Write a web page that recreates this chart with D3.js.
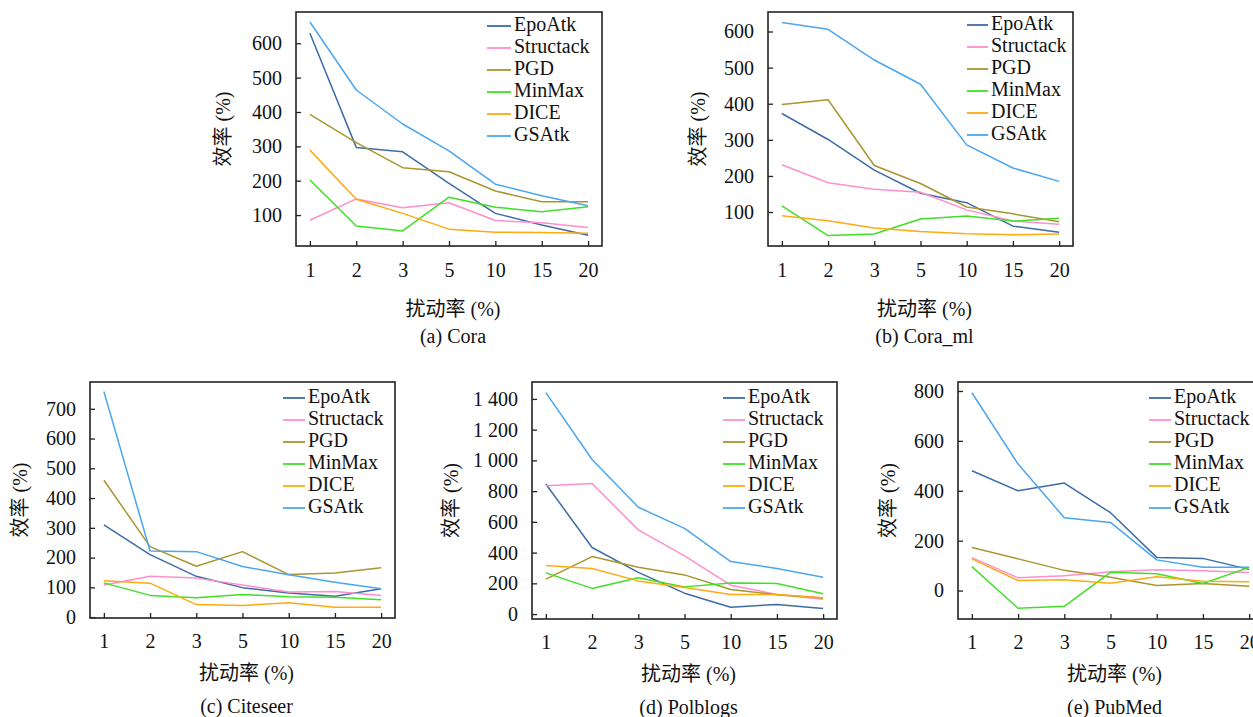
<!DOCTYPE html>
<html>
<head>
<meta charset="utf-8">
<script src="https://cdn.jsdelivr.net/npm/d3@7/dist/d3.min.js"></script>
<style>
  html, body { margin: 0; padding: 0; background: #fff; }
  svg { display: block; }
</style>
</head>
<body>
<svg id="chart" width="1253" height="717"></svg>
<script>
// ---------------- data ----------------
const rates = ["1", "2", "3", "5", "10", "15", "20"];
const methods = ["EpoAtk", "Structack", "PGD", "MinMax", "DICE", "GSAtk"];
const methodColors = ["#3d6ca6", "#ff8fcb", "#a8962f", "#3fe026", "#ffaa10", "#4aa6f0"];

// (a) Cora
const coraEpoAtk    = [629, 297, 284, 192, 105, 71, 41];
const coraStructack = [85, 147, 121, 136, 84, 78, 64];
const coraPGD       = [393, 311, 238, 226, 170, 139, 139];
const coraMinMax    = [202, 68, 54, 152, 123, 110, 124];
const coraDICE      = [289, 146, 105, 59, 50, 49, 47];
const coraGSAtk     = [662, 464, 365, 287, 190, 156, 127];

// (b) Cora_ml
const coramlEpoAtk    = [373, 301, 216, 152, 126, 61, 44];
const coramlStructack = [231, 181, 163, 155, 106, 75, 66];
const coramlPGD       = [398, 411, 229, 179, 114, 95, 73];
const coramlMinMax    = [117, 35, 39, 81, 89, 75, 83];
const coramlDICE      = [90, 76, 56, 46, 40, 37, 39];
const coramlGSAtk     = [625, 606, 521, 454, 286, 222, 185];

// (c) Citeseer
const citeseerEpoAtk    = [310, 210, 137, 99, 81, 70, 95];
const citeseerStructack = [108, 137, 131, 108, 84, 86, 73];
const citeseerPGD       = [460, 237, 171, 220, 143, 148, 166];
const citeseerMinMax    = [115, 73, 65, 76, 68, 67, 58];
const citeseerDICE      = [122, 114, 42, 39, 48, 33, 33];
const citeseerGSAtk     = [758, 222, 220, 170, 142, 117, 95];

// (d) Polblogs
const polblogsEpoAtk    = [846, 433, 271, 136, 45, 63, 37];
const polblogsStructack = [835, 850, 548, 379, 188, 128, 97];
const polblogsPGD       = [227, 374, 305, 255, 160, 126, 104];
const polblogsMinMax    = [268, 167, 236, 177, 203, 199, 132];
const polblogsDICE      = [316, 296, 216, 173, 128, 128, 106];
const polblogsGSAtk     = [1441, 1006, 695, 558, 342, 296, 240];

// (e) PubMed
const pubmedEpoAtk    = [480, 400, 431, 312, 133, 129, 85];
const pubmedStructack = [132, 51, 59, 75, 83, 79, 72];
const pubmedPGD       = [173, 127, 81, 53, 20, 28, 17];
const pubmedMinMax    = [96, -71, -63, 73, 67, 28, 93];
const pubmedDICE      = [127, 40, 43, 29, 55, 37, 35];
const pubmedGSAtk     = [793, 507, 292, 273, 123, 93, 93];

// tick labels
const ticksCora     = [100, 200, 300, 400, 500, 600];
const ticksCoraml   = [100, 200, 300, 400, 500, 600];
const ticksCiteseer = [0, 100, 200, 300, 400, 500, 600, 700];
const ticksPolblogs = [0, 200, 400, 600, 800, 1000, 1200, 1400];
const ticksPubmed   = [0, 200, 400, 600, 800];

const captions = ["(a) Cora", "(b) Cora_ml", "(c) Citeseer", "(d) Polblogs", "(e) PubMed"];
const xTitle = "扰动率 (%)";
const yTitle = "效率 (%)";

// ---------------- layout ----------------
const FONT = '"Liberation Serif", "Noto Sans CJK SC", serif';
const panels = [
  { series: [coraEpoAtk, coraStructack, coraPGD, coraMinMax, coraDICE, coraGSAtk],
    ticks: ticksCora, domain: [10, 691], caption: captions[0],
    box: { l: 296, r: 602, t: 12, b: 246 }, yLabX: 225, legX: 487, legLine: 24, legT: 26,
    tickY: 26, titleY: 65, capY: 92 },
  { series: [coramlEpoAtk, coramlStructack, coramlPGD, coramlMinMax, coramlDICE, coramlGSAtk],
    ticks: ticksCoraml, domain: [6, 654], caption: captions[1],
    box: { l: 768, r: 1073, t: 12, b: 246 }, yLabX: 700, legX: 967, legLine: 21, legT: 25,
    tickY: 26, titleY: 65, capY: 92 },
  { series: [citeseerEpoAtk, citeseerStructack, citeseerPGD, citeseerMinMax, citeseerDICE, citeseerGSAtk],
    ticks: ticksCiteseer, domain: [-3, 790], caption: captions[2],
    box: { l: 90, r: 395, t: 382, b: 618 }, yLabX: 22, legX: 283, legLine: 22, legT: 398,
    tickY: 25, titleY: 57, capY: 90 },
  { series: [polblogsEpoAtk, polblogsStructack, polblogsPGD, polblogsMinMax, polblogsDICE, polblogsGSAtk],
    ticks: ticksPolblogs, domain: [-32, 1510], caption: captions[3],
    box: { l: 532, r: 837, t: 382, b: 619 }, yLabX: 453, legX: 723, legLine: 22, legT: 398,
    tickY: 25, titleY: 57, capY: 90 },
  { series: [pubmedEpoAtk, pubmedStructack, pubmedPGD, pubmedMinMax, pubmedDICE, pubmedGSAtk],
    ticks: ticksPubmed, domain: [-114, 836], caption: captions[4],
    box: { l: 958, r: 1263, t: 382, b: 619 }, yLabX: 890, legX: 1149, legLine: 22, legT: 398,
    tickY: 25, titleY: 57, capY: 90 }
];

const svg = d3.select("#chart");
const locale = d3.formatLocale({ decimal: ".", thousands: " ", grouping: [3], currency: ["", ""] });
const fmt = locale.format(",d");

panels.forEach(p => {
  const { l, r, t, b } = p.box;
  const g = svg.append("g");

  const x = d3.scalePoint().domain(rates).range([l, r]).padding(0.3);
  const y = d3.scaleLinear().domain(p.domain).range([b, t]);

  // lines
  const line = d3.line().x((d, i) => x(rates[i])).y(d => y(d));
  p.series.forEach((s, k) => {
    g.append("path").datum(s)
      .attr("d", line)
      .attr("fill", "none")
      .attr("stroke", methodColors[k])
      .attr("stroke-width", 1.5)
      .attr("stroke-linejoin", "round");
  });

  // axes (inward ticks)
  const yAxis = d3.axisLeft(y).tickValues(p.ticks).tickSize(-5).tickPadding(14).tickFormat(fmt);
  const ya = g.append("g").attr("transform", `translate(${l},0)`).call(yAxis);
  const xAxis = d3.axisBottom(x).tickSize(-5).tickPadding(12);
  const xa = g.append("g").attr("transform", `translate(0,${b})`).call(xAxis);
  [ya, xa].forEach(a => {
    a.attr("font-family", FONT).attr("font-size", 20);
    a.select(".domain").remove();
    a.selectAll(".tick line").attr("stroke", "#222").attr("stroke-width", 1.3);
    a.selectAll(".tick text").attr("font-size", 20).attr("fill", "#111").attr("font-family", FONT);
  });
  xa.selectAll(".tick text").attr("dy", null).attr("y", p.tickY).attr("dominant-baseline", "middle");

  // frame
  g.append("rect").attr("x", l).attr("y", t).attr("width", r - l).attr("height", b - t)
    .attr("fill", "none").attr("stroke", "#222").attr("stroke-width", 1.6);

  // titles
  const cx = (l + r) / 2 + 4;
  const txt = (sel) => sel.attr("font-family", FONT).attr("font-size", 20).attr("fill", "#111");
  txt(g.append("text").attr("x", cx).attr("y", b + p.titleY)
    .attr("text-anchor", "middle").attr("dominant-baseline", "middle")).text(xTitle);
  txt(g.append("text").attr("x", cx).attr("y", b + p.capY)
    .attr("text-anchor", "middle").attr("dominant-baseline", "middle")).text(p.caption);
  txt(g.append("text")
    .attr("transform", `translate(${p.yLabX},${(t + b) / 2}) rotate(-90)`)
    .attr("text-anchor", "middle").attr("dominant-baseline", "middle")).text(yTitle);

  // legend
  const leg = g.append("g");
  methods.forEach((m, k) => {
    const yy = p.legT + k * 22;
    leg.append("line").attr("x1", p.legX).attr("x2", p.legX + p.legLine)
      .attr("y1", yy).attr("y2", yy)
      .attr("stroke", methodColors[k]).attr("stroke-width", 1.8);
    txt(leg.append("text").attr("x", p.legX + p.legLine + 3).attr("y", yy)
      .attr("dominant-baseline", "middle")).text(m);
  });
});
</script>
</body>
</html>
